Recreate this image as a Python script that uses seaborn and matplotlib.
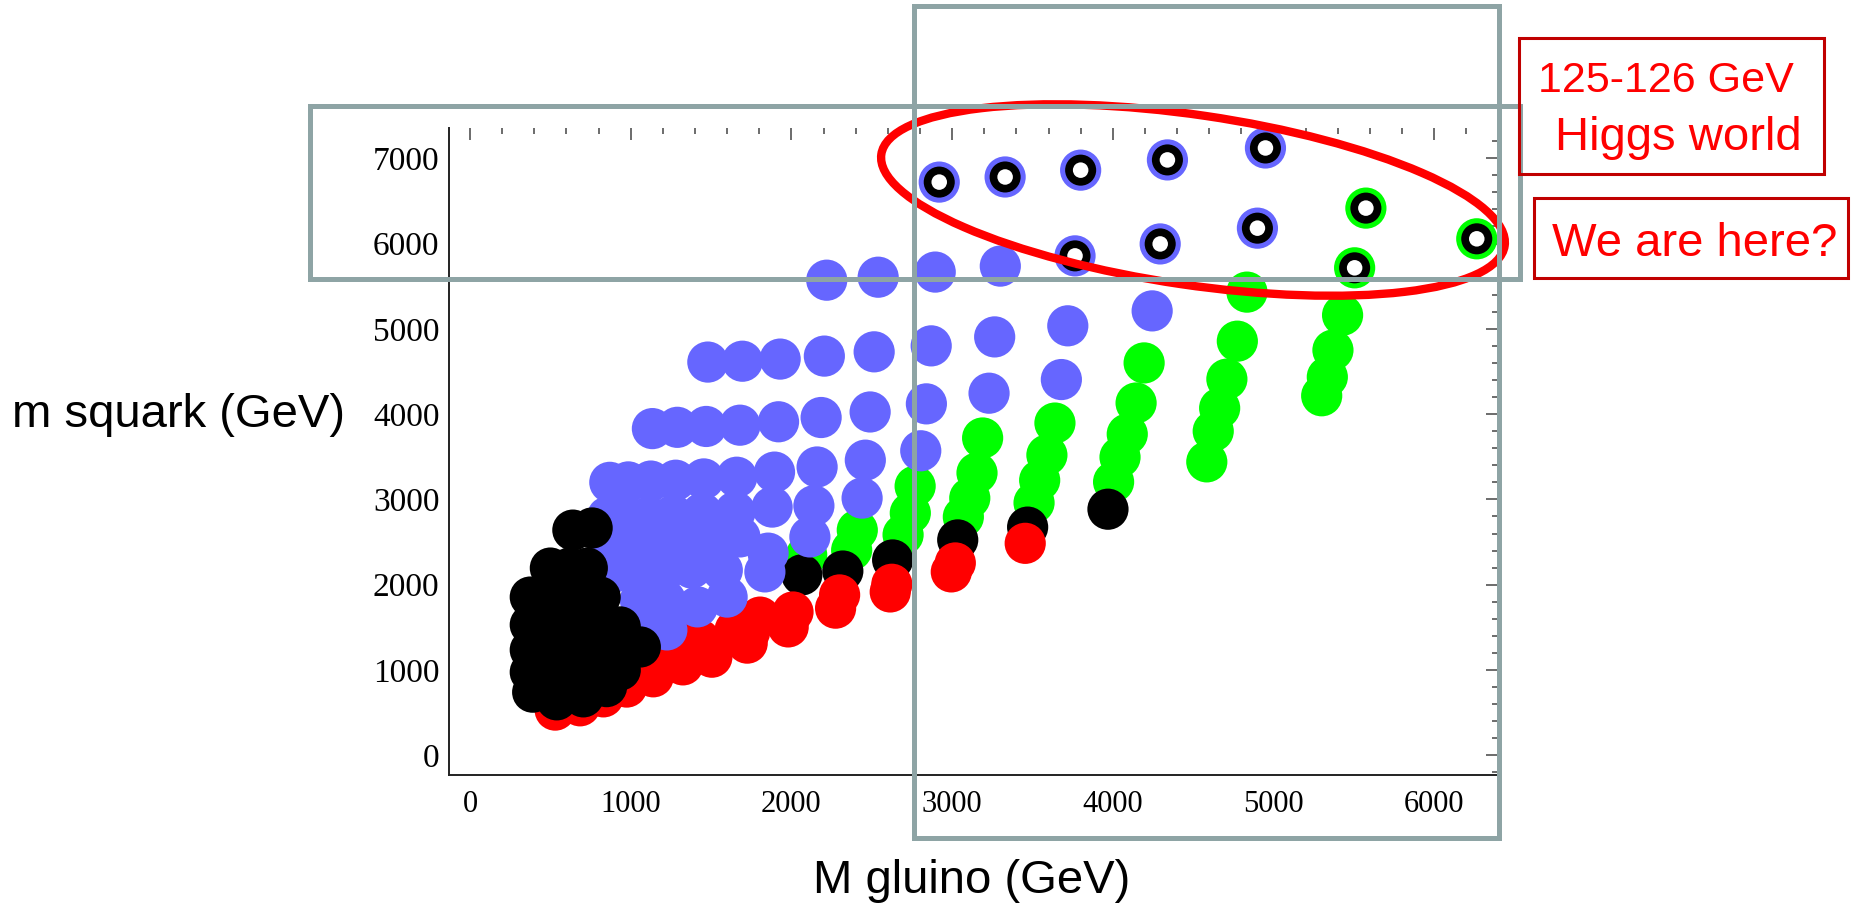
import matplotlib.pyplot as plt
import seaborn as sns
from matplotlib.patches import Ellipse, Rectangle
from matplotlib.ticker import MultipleLocator

# gluino / squark masses (GeV)
green_gluino = [5430, 5370, 5335, 5300,
                4835, 4775, 4710, 4665, 4625, 4585,
                4195, 4145, 4090, 4045, 4005,
                3640, 3590, 3545, 3510,
                3190, 3155, 3110, 3070,
                2770, 2740, 2695,
                2410, 2375, 2095]
green_squark = [5160, 4750, 4435, 4215,
                5430, 4855, 4410, 4070, 3800, 3440,
                4600, 4130, 3765, 3495, 3205,
                3895, 3520, 3225, 2960,
                3720, 3310, 3015, 2795,
                3155, 2840, 2585,
                2640, 2405, 2350]

black_col_gluino = [2065, 2320, 2630, 3035, 3470, 3970]
black_col_squark = [2115, 2160, 2290, 2525, 2675, 2885]

red_gluino = [530, 685, 830, 975, 1140, 1325, 1505, 1725, 1980, 2010, 2275, 2300,
              2615, 2625, 2995, 3020, 3455, 915, 1075, 1290, 1495, 1740, 1805, 1430, 1650]
red_squark = [530, 580, 685, 800, 920, 1060, 1150, 1315, 1505, 1680, 1725, 1880,
              1915, 2005, 2150, 2255, 2485, 805, 965, 1120, 1200, 1445, 1620, 1355, 1470]

blue_gluino = [2220, 2540, 2895, 3300,
               1480, 1695, 1930, 2205, 2515, 2870, 3265, 3720, 4245,
               1135, 1290, 1470, 1680, 1920, 2185, 2490, 2840, 3230, 3680,
               870, 985, 1125, 1280, 1455, 1660, 1895, 2160, 2460, 2805,
               855, 975, 1115, 1265, 1445, 1650, 1880, 2140, 2440,
               870, 1010, 1150, 1305, 1480, 1680, 1855, 2115,
               900, 1060, 1215, 1380, 1570, 1835,
               1060, 1215, 1415, 1600,
               1110, 1225]
blue_squark = [5570, 5605, 5665, 5735,
               4610, 4620, 4645, 4680, 4730, 4800, 4905, 5035, 5210,
               3830, 3845, 3855, 3870, 3910, 3960, 4025, 4120, 4245, 4405,
               3200, 3205, 3215, 3225, 3240, 3260, 3320, 3380, 3460, 3570,
               2795, 2805, 2795, 2815, 2840, 2855, 2910, 2925, 3015,
               2465, 2490, 2500, 2525, 2550, 2560, 2370, 2560,
               2150, 2150, 2170, 2195, 2170, 2150,
               1820, 1820, 1740, 1855,
               1530, 1470]

black_gluino = [640, 760, 500, 620, 730, 375, 530, 670, 810, 375, 530, 685, 840, 935,
                375, 530, 685, 870, 1060, 375, 530, 685, 840, 935, 390, 540, 705, 850]
black_squark = [2640, 2665, 2195, 2195, 2195, 1855, 1855, 1855, 1855, 1530, 1530, 1530, 1530, 1505,
                1235, 1235, 1235, 1235, 1270, 975, 975, 975, 975, 1000, 740, 650, 685, 805]

# 125-126 GeV Higgs points (ringed)
ring_blue_gluino = [2920, 3330, 3800, 4340, 4950, 3765, 4295, 4900]
ring_blue_squark = [6720, 6780, 6860, 6980, 7120, 5855, 5995, 6180]
ring_green_gluino = [5575, 5505, 6265]
ring_green_squark = [6415, 5715, 6055]

x_ticks = [0, 1000, 2000, 3000, 4000, 5000, 6000]
y_ticks = [0, 1000, 2000, 3000, 4000, 5000, 6000, 7000]

sns.set_style('white')
plt.rcParams['font.family'] = ['Liberation Sans', 'DejaVu Sans']

fig = plt.figure(figsize=(18.72, 9.06), dpi=100)
ax = fig.add_axes([0.2400, 0.1446, 0.5602, 0.7141])

S = 880
BLUE = '#6666FF'
GREEN = '#00FF00'
kw = dict(ax=ax, s=S, linewidth=0, edgecolor='none', legend=False)
sns.scatterplot(x=green_gluino, y=green_squark, color=GREEN, zorder=2, **kw)
sns.scatterplot(x=black_col_gluino, y=black_col_squark, color='black', zorder=3, **kw)
sns.scatterplot(x=red_gluino, y=red_squark, color='red', zorder=4, **kw)
sns.scatterplot(x=blue_gluino, y=blue_squark, color=BLUE, zorder=5, **kw)
sns.scatterplot(x=black_gluino, y=black_squark, color='black', zorder=6, **kw)
sns.scatterplot(x=ring_blue_gluino, y=ring_blue_squark, color=BLUE, zorder=7, **kw)
sns.scatterplot(x=ring_green_gluino, y=ring_green_squark, color=GREEN, zorder=7, **kw)
rx = ring_blue_gluino + ring_green_gluino
ry = ring_blue_squark + ring_green_squark
sns.scatterplot(x=rx, y=ry, color='black', s=500, linewidth=0, edgecolor='none', ax=ax, zorder=8, legend=False)
sns.scatterplot(x=rx, y=ry, color='white', s=125, linewidth=0, edgecolor='none', ax=ax, zorder=9, legend=False)

ax.set_xlim(-129, 6397)
ax.set_ylim(-231, 7354)
ax.set_xticks(x_ticks)
ax.set_yticks(y_ticks)
ax.xaxis.set_minor_locator(MultipleLocator(200))
ax.yaxis.set_minor_locator(MultipleLocator(200))
ax.tick_params(which='both', direction='in', top=True, right=True, color='#444444', width=1.1,
               labelcolor='black')
ax.tick_params(which='major', length=8.5)
ax.tick_params(which='minor', length=4.5)
ax.tick_params(axis='x', labelsize=22, pad=11)
ax.tick_params(axis='y', labelsize=24, pad=7)
for lab in ax.get_xticklabels() + ax.get_yticklabels():
    lab.set_family('Liberation Serif')
for side in ['left', 'bottom']:
    ax.spines[side].set_color('#222222')
    ax.spines[side].set_linewidth(1.4)
for side in ['top', 'right']:
    ax.spines[side].set_visible(False)
ax.set_xlabel('')
ax.set_ylabel('')

fig.text(179 / 1872, 1 - 415 / 906, 'm squark (GeV)', fontsize=34, color='black', ha='center', va='center')
fig.text(972 / 1872, 1 - 881 / 906, 'M gluino (GeV)', fontsize=34, color='black', ha='center', va='center')

# annotation overlay in pixel units
ov = fig.add_axes([0, 0, 1, 1], zorder=10)
ov.set_xlim(0, 1872)
ov.set_ylim(906, 0)
ov.axis('off')
ov.patch.set_alpha(0)

ov.add_patch(Ellipse((1193, 200), 630, 170, angle=8.35, fill=False, edgecolor='red', linewidth=6))
GRAY = '#8EA4A5'
ov.add_patch(Rectangle((310, 106), 1210, 173, fill=False, edgecolor=GRAY, linewidth=3.6))
ov.add_patch(Rectangle((914, 6), 585, 832, fill=False, edgecolor=GRAY, linewidth=3.6))

ov.add_patch(Rectangle((1519, 38), 305, 136, fill=False, edgecolor='#C00000', linewidth=2.2))
ov.add_patch(Rectangle((1534, 198), 314, 80, fill=False, edgecolor='#C00000', linewidth=2.2))
ov.text(1666, 92, '125-126 GeV', color='red', fontsize=31, ha='center', va='baseline')
ov.text(1678, 150, 'Higgs world', color='red', fontsize=34, ha='center', va='baseline')
ov.text(1695, 256, 'We are here?', color='red', fontsize=34, ha='center', va='baseline')

fig.savefig('out.png', dpi=100)
